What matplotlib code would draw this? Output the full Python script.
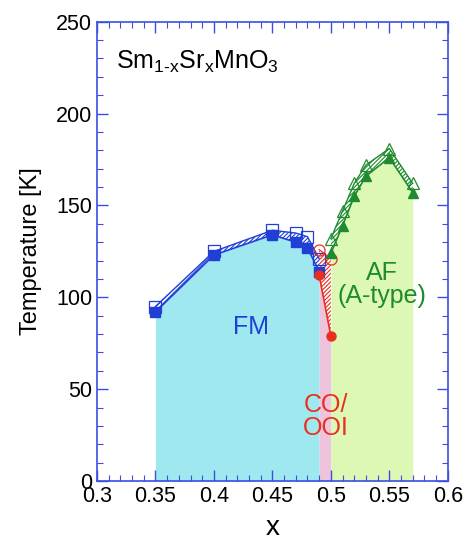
import matplotlib
matplotlib.use("Agg")
import matplotlib.pyplot as plt
import numpy as np
from matplotlib.ticker import MultipleLocator

plt.rcParams['font.family'] = ['Liberation Sans', 'DejaVu Sans']
plt.rcParams['mathtext.fontset'] = 'custom'
plt.rcParams['mathtext.rm'] = 'Liberation Sans'
plt.rcParams['mathtext.it'] = 'Liberation Sans'
plt.rcParams['hatch.linewidth'] = 0.8

# Data
fm_x = [0.35, 0.40, 0.45, 0.47, 0.48, 0.49]
fm_filled = [92, 123, 134, 130, 127, 114]
fm_open = [95, 125, 136.5, 135, 133, 121]

co_x = [0.49, 0.50]
co_filled = [112, 79]
co_open = [126, 121]

af_x = [0.50, 0.51, 0.52, 0.53, 0.55, 0.57]
af_filled = [124, 139, 155, 166, 176, 157]
af_open = [132, 147, 162, 172, 181, 162]

blue = '#1f3fd6'
red = '#e8301e'
green = '#1f8a2e'
spine = '#3a4fe0'

fig = plt.figure(figsize=(4.66, 5.43), dpi=100)
ax = fig.add_axes([0.208, 0.114, 0.753, 0.846])

# Region fills
ax.fill_between(fm_x, 0, fm_filled, color='#a0e8f0', lw=0, zorder=1)
ax.fill_between(co_x, 0, co_filled, color='#eec4dc', lw=0, zorder=1)
ax.fill_between(af_x, 0, af_filled, color='#ddf8b4', lw=0, zorder=1)

# Hatched bands between the two transition lines
ax.fill_between(fm_x, fm_filled, fm_open, facecolor='none', edgecolor=blue,
                hatch='////////', lw=0, zorder=2)
ax.fill_between(co_x, co_filled, co_open, facecolor='none', edgecolor=red,
                hatch='////////', lw=0, zorder=2)
ax.fill_between(af_x, af_filled, af_open, facecolor='none', edgecolor=green,
                hatch='////////', lw=0, zorder=2)

# Lines & markers
ax.plot(fm_x, fm_open, '-', color=blue, lw=1.0, marker='s', ms=8,
        mfc='none', mec=blue, mew=0.9, zorder=3)
ax.plot(fm_x, fm_filled, '-', color=blue, lw=1.2, marker='s', ms=6.5,
        mfc=blue, mec=blue, zorder=4)
ax.plot(co_x, co_open, '-', color=red, lw=0.8, marker='o', ms=8,
        mfc='none', mec=red, mew=0.9, zorder=3)
ax.plot(co_x, co_filled, '-', color=red, lw=1.2, marker='o', ms=6.5,
        mfc=red, mec=red, zorder=4)
ax.plot(af_x, af_open, '-', color=green, lw=1.0, marker='^', ms=8,
        mfc='none', mec=green, mew=0.9, zorder=3)
ax.plot(af_x, af_filled, '-', color=green, lw=1.2, marker='^', ms=6.5,
        mfc=green, mec=green, zorder=4)

# Axes
ax.set_xlim(0.3, 0.6)
ax.set_ylim(0, 250)
ax.xaxis.set_minor_locator(MultipleLocator(0.01))
ax.yaxis.set_major_locator(MultipleLocator(50))
ax.yaxis.set_minor_locator(MultipleLocator(10))
ax.set_xticks([0.3, 0.35, 0.4, 0.45, 0.5, 0.55, 0.6])
ax.set_xticklabels(['0.3', '0.35', '0.4', '0.45', '0.5', '0.55', '0.6'])
ax.tick_params(which='both', direction='in', top=True, right=True,
               color=spine, labelsize=15.5, labelcolor='black')
ax.tick_params(which='major', length=8, width=1)
ax.tick_params(which='minor', length=4, width=0.8)
for s in ax.spines.values():
    s.set_color(spine)
    s.set_linewidth(1.2)

ax.set_xlabel('x', fontsize=20, labelpad=6)
ax.set_ylabel('Temperature [K]', fontsize=17, labelpad=10)

ax.text(0.316, 228, r'Sm$_{\mathrm{1\text{-}x}}$Sr$_{\mathrm{x}}$MnO$_{\mathrm{3}}$',
        fontsize=18, ha='left', va='center')

ax.text(0.432, 84, 'FM', color=blue, fontsize=18, ha='center', va='center')
ax.text(0.496, 35, 'CO/\nOOI', color=red, fontsize=18, ha='center', va='center',
        linespacing=0.95)
ax.text(0.544, 107, 'AF\n(A-type)', color=green, fontsize=18, ha='center',
        va='center', linespacing=0.95)

fig.savefig('out.png', dpi=100)
